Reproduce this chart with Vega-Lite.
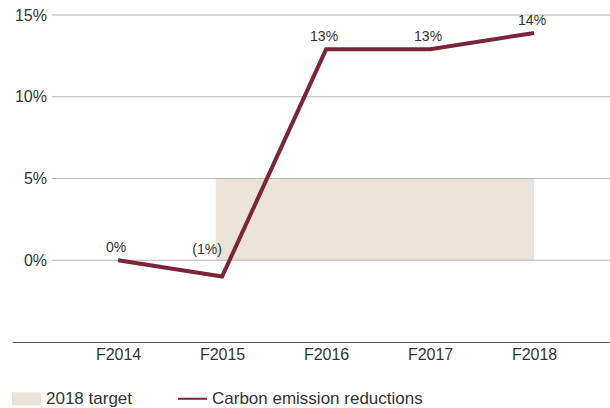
{
  "$schema": "https://vega.github.io/schema/vega-lite/v6.json",
  "width": 598,
  "height": 327,
  "autosize": {"type": "none"},
  "padding": {"left": 12, "top": 15, "right": 0, "bottom": 66},
  "background": "white",
  "config": {
    "view": {"stroke": null},
    "font": "Liberation Sans",
    "axis": {"labelFont": "Liberation Sans", "labelColor": "#333333", "labelFontSize": 16}
  },
  "datasets": {
    "grid": [
      {"pct": 0, "from": 2013.365, "to": 2018.73},
      {"pct": 5, "from": 2013.365, "to": 2018.73},
      {"pct": 10, "from": 2013.365, "to": 2018.73},
      {"pct": 15, "from": 2013.365, "to": 2018.73}
    ],
    "target": [{"series": "2018 target", "start": 2014.94, "end": 2018, "low": 0, "high": 5}],
    "emissions": [
      {"series": "Carbon emission reductions", "year": 2014, "value": 0, "label": "0%"},
      {"series": "Carbon emission reductions", "year": 2015, "value": -1, "label": "(1%)"},
      {"series": "Carbon emission reductions", "year": 2016, "value": 12.9, "label": "13%"},
      {"series": "Carbon emission reductions", "year": 2017, "value": 12.9, "label": "13%"},
      {"series": "Carbon emission reductions", "year": 2018, "value": 13.9, "label": "14%"}
    ]
  },
  "layer": [
    {
      "data": {"name": "target"},
      "mark": {"type": "rect"},
      "encoding": {
        "x": {"field": "start", "type": "quantitative", "scale": {"domain": [2012.98, 2018.73], "nice": false, "zero": false},
          "axis": {"values": [2014, 2015, 2016, 2017, 2018], "labelExpr": "'F' + datum.value", "title": null, "grid": false, "ticks": false, "tickSize": 0, "labelPadding": 4, "domainColor": "#555555", "domainWidth": 1.2}},
        "x2": {"field": "end"},
        "y": {"field": "low", "type": "quantitative", "scale": {"domain": [-5, 15], "nice": false},
          "axis": {"values": [0, 5, 10, 15], "labelExpr": "datum.value + '%'", "title": null, "domain": false, "ticks": false, "tickSize": 0, "labelPadding": -34.5, "labelAlign": "right", "grid": false}},
        "y2": {"field": "high"},
        "color": {"field": "series", "type": "nominal",
          "scale": {"domain": ["2018 target", "Carbon emission reductions"], "range": ["#ebe3d7", "#7b2636"]},
          "legend": {"orient": "none", "legendX": 0, "legendY": 369, "direction": "horizontal", "title": null,
            "labelFontSize": 17, "labelColor": "#333333", "labelFont": "Liberation Sans", "labelLimit": 0, "symbolSize": 841, "labelOffset": 5,
            "columnPadding": 45, "padding": 0, "symbolStrokeWidth": 0,
            "encode": {"symbols": {"update": {
              "shape": {"signal": "datum.value === '2018 target' ? 'M-1,-0.45H1V0.45H-1Z' : 'M-1,-0.07H1V0.07H-1Z'"},
              "fill": {"signal": "scale('color', datum.value)"},
              "stroke": {"value": "transparent"},
              "opacity": {"value": 1}
            }}}}}
      }
    },
    {
      "data": {"name": "grid"},
      "mark": {"type": "rule", "color": "#b5b5b5", "strokeWidth": 1.2},
      "encoding": {
        "x": {"field": "from", "type": "quantitative"},
        "x2": {"field": "to"},
        "y": {"field": "pct", "type": "quantitative"}
      }
    },
    {
      "data": {"name": "emissions"},
      "mark": {"type": "line", "strokeWidth": 4, "strokeJoin": "miter"},
      "encoding": {
        "x": {"field": "year", "type": "quantitative"},
        "y": {"field": "value", "type": "quantitative"},
        "color": {"field": "series", "type": "nominal"}
      }
    },
    {
      "data": {"name": "emissions"},
      "transform": [{"filter": "datum.year !== 2015"}],
      "mark": {"type": "text", "fontSize": 14, "color": "#333333", "baseline": "alphabetic", "dy": -8, "dx": -2},
      "encoding": {
        "x": {"field": "year", "type": "quantitative"},
        "y": {"field": "value", "type": "quantitative"},
        "text": {"field": "label"}
      }
    },
    {
      "data": {"name": "emissions"},
      "transform": [{"filter": "datum.year === 2015"}],
      "mark": {"type": "text", "fontSize": 14, "color": "#333333", "baseline": "alphabetic", "dy": -23, "dx": -15},
      "encoding": {
        "x": {"field": "year", "type": "quantitative"},
        "y": {"field": "value", "type": "quantitative"},
        "text": {"field": "label"}
      }
    }
  ]
}
